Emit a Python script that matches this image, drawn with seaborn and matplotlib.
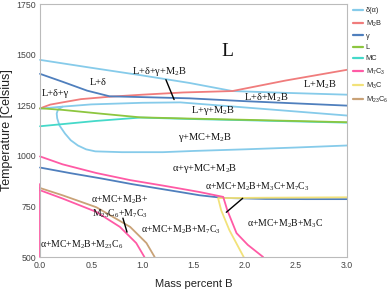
import pandas as pd
import matplotlib.pyplot as plt
import seaborn as sns
from matplotlib.lines import Line2D

# phase boundary curves (mass % B, temperature in C)
delta_top_x = [0, 0.5, 1.0, 1.46, 1.88, 2.4, 3.0]
delta_top_t = [1474, 1435, 1397, 1360, 1320, 1311, 1302]
delta_mid_x = [0, 0.22, 0.5, 1.0, 1.37, 2.0, 2.5, 3.0]
delta_mid_t = [1233, 1243, 1254, 1262, 1264, 1239, 1219, 1199]
delta_loop_x = [0.22, 0.175, 0.163, 0.168, 0.19, 0.244, 0.3, 0.37, 0.45, 0.54, 0.8, 1.2, 1.5, 2.0, 2.5, 3.0]
delta_loop_t = [1243, 1228, 1209, 1185, 1150, 1110, 1077, 1051, 1032, 1022, 1018, 1018, 1024, 1032, 1041, 1051]

m2b_x = [0, 0.03, 0.1, 0.22, 0.4, 0.68, 1.0, 1.4, 1.88, 2.4, 3.0]
m2b_t = [1233, 1240, 1253, 1264, 1280, 1292, 1302, 1313, 1320, 1372, 1425]

gamma_top_x = [0, 0.22, 0.46, 0.68, 1.0, 1.46, 2.0, 2.5, 3.0]
gamma_top_t = [1405, 1366, 1322, 1294, 1290, 1284, 1270, 1259, 1248]
gamma_low_x = [0, 0.3, 0.6, 0.9, 1.2, 1.37, 1.56, 1.79, 2.2, 2.6, 3.0]
gamma_low_t = [942, 914, 888, 860, 835, 821, 805, 792, 787, 786, 786]

liq_x = [0, 0.22, 0.6, 0.98, 1.46, 2.0, 3.0]
liq_t = [1235, 1227, 1208, 1190, 1184, 1178, 1166]

mc_x = [0, 0.54, 0.98, 1.46, 2.0, 3.0]
mc_t = [1146, 1172, 1189, 1182, 1176, 1164]

m7c3_top_x = [0, 0.22, 0.55, 0.88, 1.2, 1.37, 1.56, 1.79, 1.83, 1.92, 2.03, 2.18]
m7c3_top_t = [997, 958, 915, 880, 853, 838, 821, 797, 731, 618, 560, 500]
m7c3_low_x = [0, 0.22, 0.55, 0.78, 0.94, 1.02]
m7c3_low_t = [830, 789, 723, 649, 569, 500]
m7c3_axis_x = [0, 0]
m7c3_axis_t = [500, 860]

m3c_x = [1.99, 1.85, 1.77, 1.74, 2.2, 2.6, 3.0]
m3c_t = [500, 633, 731, 791, 793, 794, 795]

m23c6_x = [0, 0.22, 0.55, 0.88, 1.04, 1.12]
m23c6_t = [841, 805, 746, 649, 569, 500]

phases = ["δ(α)", "M$_\\mathregular{2}$B", "γ", "L", "MC",
          "M$_\\mathregular{7}$C$_\\mathregular{3}$", "M$_\\mathregular{3}$C",
          "M$_\\mathregular{23}$C$_\\mathregular{6}$"]
colors = ["#86CBEA", "#F07C7C", "#4F7FBD", "#8DC63F", "#45D9C9",
          "#FF5AA5", "#F2E27A", "#C9A277"]

curves = [
    (delta_top_x, delta_top_t, 0), (delta_mid_x, delta_mid_t, 0),
    (delta_loop_x, delta_loop_t, 0), (m2b_x, m2b_t, 1),
    (gamma_top_x, gamma_top_t, 2), (gamma_low_x, gamma_low_t, 2),
    (mc_x, mc_t, 4), (liq_x, liq_t, 3),
    (m23c6_x, m23c6_t, 7), (m3c_x, m3c_t, 6),
    (m7c3_top_x, m7c3_top_t, 5), (m7c3_low_x, m7c3_low_t, 5),
    (m7c3_axis_x, m7c3_axis_t, 5),
]

sns.set_theme(style="white")
plt.rcParams["font.family"] = ["Liberation Sans", "DejaVu Sans"]

fig = plt.figure(figsize=(3.87, 2.91), dpi=100)
ax = fig.add_axes([0.1034, 0.1168, 0.7934, 0.8694])

for xs, ts, k in curves:
    df = pd.DataFrame({"x": xs, "t": ts})
    sns.lineplot(data=df, x="x", y="t", sort=False, estimator=None,
                 color=colors[k], lw=1.3, ax=ax, clip_on=False)

ax.set_xlim(0, 3.0)
ax.set_ylim(500, 1750)
ax.set_xticks([0, 0.5, 1.0, 1.5, 2.0, 2.5, 3.0])
ax.set_xticklabels(["0.0", "0.5", "1.0", "1.5", "2.0", "2.5", "3.0"])
ax.set_yticks([500, 750, 1000, 1250, 1500, 1750])
ax.tick_params(labelsize=6.3, colors="#444444", length=0, pad=3)
for s in ax.spines.values():
    s.set_color("#BBBBBB")
    s.set_linewidth(0.8)
ax.set_xlabel("Mass percent B", fontsize=8, color="#222222", labelpad=6)
ax.set_ylabel("Temperature [Celsius]", fontsize=9, color="#222222")
ax.yaxis.set_label_coords(-0.088, 0.5)

# region labels
serif = ["Liberation Serif", "DejaVu Serif"]
labels = [
    (1.83, 1515, "L", 14),
    (0.57, 1361, "L+δ", 7.5),
    (0.02, 1307, "L+δ+γ", 7.5),
    (1.17, 1415, "L+δ+γ+M$_\\mathregular{2}$B", 7.5),
    (2.73, 1354, "L+M$_\\mathregular{2}$B", 7.5),
    (2.21, 1287, "L+δ+M$_\\mathregular{2}$B", 7.5),
    (1.69, 1222, "L+γ+M$_\\mathregular{2}$B", 7.5),
    (1.61, 1090, "γ+MC+M$_\\mathregular{2}$B", 7.5),
    (1.61, 938, "α+γ+MC+M$_\\mathregular{2}$B", 7.5),
    (2.12, 846, "α+MC+M$_\\mathregular{2}$B+M$_\\mathregular{3}$C+M$_\\mathregular{7}$C$_\\mathregular{3}$", 7),
    (2.39, 667, "α+MC+M$_\\mathregular{2}$B+M$_\\mathregular{3}$C", 7),
    (1.38, 633, "α+MC+M$_\\mathregular{2}$B+M$_\\mathregular{7}$C$_\\mathregular{3}$", 7),
    (0.78, 786, "α+MC+M$_\\mathregular{2}$B+", 7),
    (0.78, 716, "M$_\\mathregular{23}$C$_\\mathregular{6}$+M$_\\mathregular{7}$C$_\\mathregular{3}$", 7),
    (0.41, 559, "α+MC+M$_\\mathregular{2}$B+M$_\\mathregular{23}$C$_\\mathregular{6}$", 7),
]
for x, y, s, fs in labels:
    ha = "left" if s == "L+δ+γ" else "center"
    ax.text(x, y, s, fontsize=fs, ha=ha, va="center", family=serif, color="#111111")

# pointer lines
for (x0, y0), (x1, y1) in [((1.23, 1376), (1.31, 1278)),
                           ((1.98, 790), (1.82, 721)),
                           ((0.81, 692), (0.85, 623))]:
    ax.plot([x0, x1], [y0, y1], color="black", lw=1.0)

handles = [Line2D([0], [0], color=c, lw=1.6) for c in colors]
fig.legend(handles, phases, loc="upper left", bbox_to_anchor=(0.905, 0.985),
           frameon=False, fontsize=5.3, handlelength=1.3, handletextpad=0.4,
           labelspacing=0.55, borderaxespad=0)

plt.savefig("out.png", dpi=100)
